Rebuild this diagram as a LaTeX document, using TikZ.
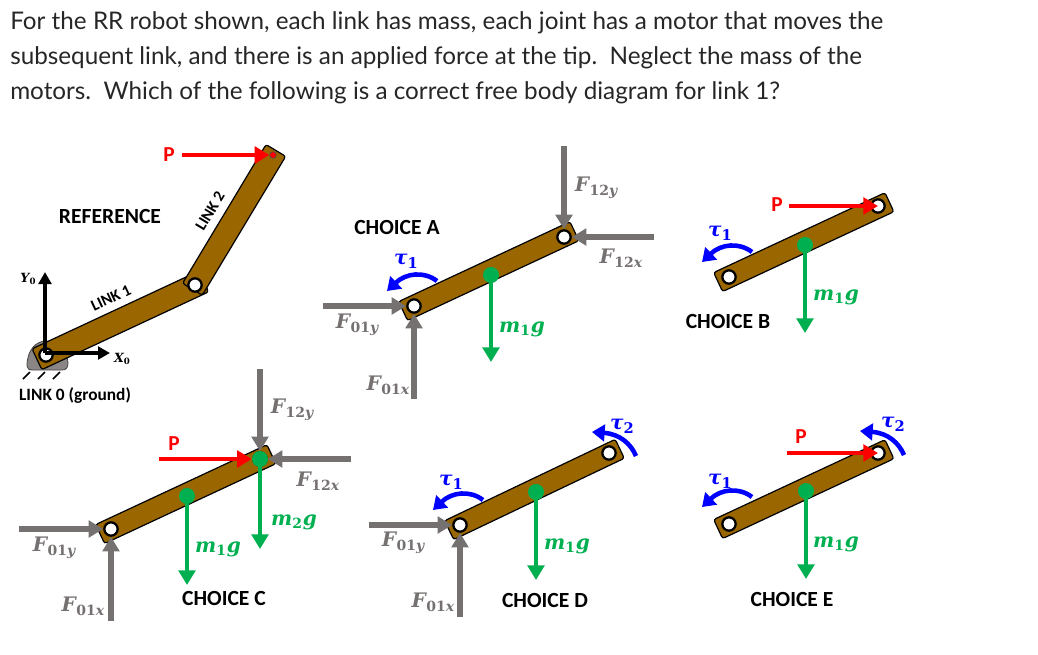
\documentclass[tikz,border=0pt]{standalone}
\usepackage{fontspec}
\usetikzlibrary{arrows.meta}
\setmainfont{Lato}
\newfontfamily\calb[BoldFont=Carlito Bold]{Carlito}
\newfontfamily\mathf[ItalicFont=DejaVu Serif Bold Italic,BoldFont=DejaVu Serif Bold]{DejaVu Serif}
\definecolor{brownlink}{HTML}{996600}
\definecolor{gforce}{HTML}{767171}
\definecolor{gweight}{HTML}{00B050}
\definecolor{bluetau}{HTML}{0000FF}
\definecolor{redp}{HTML}{FF0000}
\newcommand{\linkbar}[4]{\draw[linkbody,shift={(#1,#2)},rotate=#4] (-12,-10.5) rectangle (#3+12,10.5);}
\newcommand{\subl}[3]{{\mathf\itshape\fontsize{15}{15}\selectfont #1\raisebox{-2.8pt}{\fontsize{10.5}{10.5}\selectfont\kern0.4pt{\upshape\bfseries #2}#3}}}
\newcommand{\tausym}[1]{{\mathf\itshape\fontsize{15}{15}\selectfont τ\raisebox{-2.8pt}{\fontsize{11}{11}\selectfont\upshape\bfseries #1}}}
\newcommand{\mg}[1]{{\mathf\itshape\fontsize{15}{15}\selectfont m\raisebox{-2.6pt}{\fontsize{10.5}{10.5}\selectfont\upshape\bfseries #1}\kern0.5pt g}}
\tikzset{
 linkbody/.style={draw=black,line width=0.9pt,fill=brownlink,rounded corners=1.8pt},
 hole/.style={circle,draw=black,fill=white,line width=1.7pt,minimum size=10pt,inner sep=0pt},
 gdot/.style={circle,fill=gweight,minimum size=12pt,inner sep=0pt},
 force/.style={draw=gforce,line width=3.8pt,-{Triangle[length=11pt,width=12.5pt]}},
 weight/.style={draw=gweight,line width=3.4pt,-{Triangle[length=11pt,width=12.5pt]}},
 pull/.style={draw=redp,line width=3.6pt,-{Triangle[length=11pt,width=12.5pt]}},
 tauarc/.style={draw=bluetau,line width=3.4pt,-{Triangle[length=9.5pt,width=12.5pt]}},
 axisarrow/.style={draw=black,line width=2.6pt,-{Triangle[length=9pt,width=9.5pt]}},
 para/.style={anchor=base west,inner sep=0pt,font=\fontsize{18.2}{20}\selectfont,text=black!85},
 caplbl/.style={inner sep=0pt,font=\calb\bfseries\fontsize{16.2}{18}\selectfont},
 gl/.style={inner sep=0pt,text=gforce},
 wl/.style={inner sep=0pt,text=gweight},
 tl/.style={inner sep=0pt,text=bluetau},
 pl/.style={inner sep=0pt,text=redp,font=\calb\bfseries\fontsize{16}{18}\selectfont},
}
\newcommand{\tauA}[3]{% #1 name #2,#3 joint centre: left motor arc
 \coordinate (#1s) at (#2+23,#3-25);
 \coordinate (#1e) at (#2-27,#3-15);
 \draw[tauarc] (#1s) .. controls (#2+10,#3-35) and (#2-8,#3-33) .. (#1e);}
\begin{document}
\begin{tikzpicture}[x=0.75pt,y=-0.75pt]
\useasboundingbox (0,0) rectangle (1038,654);
\node[para] (t1) at (10,29) {For the RR robot shown, each link has mass, each joint has a motor that moves the};
\node[para] (t2) at (10,64) {subsequent link, and there is an applied force at the tip.\ \ Neglect the mass of the};
\node[para] (t3) at (10,99) {motors.\ \ Which of the following is a correct free body diagram for link 1?};

% REFERENCE
\draw[fill=gforce!85,draw=gforce!60!black,line width=0.6pt] (27,366) .. controls (27,350) and (36,341) .. (46,341) .. controls (58,341) and (68,352) .. (68,363) .. controls (68,368) and (66,370) .. (62,370) -- (33,370) .. controls (29,370) and (27,369) .. (27,366) -- cycle;
\foreach \hx in {23,38,53} \draw[black,line width=1.2pt] (\hx,379) -- (\hx+7,372);
\draw[linkbody,shift={(46,355)},rotate=25] (-10,-11.5) rectangle (174,11.5);
\draw[linkbody,shift={(195,285)},rotate=59] (-5,-11.5) rectangle (157,11.5);
\node[hole] (r0) at (46,355) {};
\node[hole] (r1) at (195,285) {};
\node[circle,fill=redp,draw=black!70,line width=0.5pt,minimum size=5pt,inner sep=0pt] (rt) at (273,155) {};
\coordinate (ry) at (45,272);
\coordinate (rx) at (110,353);
\coordinate (ro) at (45,353);
\draw[axisarrow] (ro) -- (ry);
\draw[axisarrow] (ro) -- (rx);
\coordinate (rp) at (182,155);
\draw[pull] (rp) -- (rt);
\node[pl] (rpl) at (169,155) {P};
\node[caplbl] (rlab) at (110,216) {REFERENCE};
\node[caplbl,font=\calb\bfseries\fontsize{13}{15}\selectfont] (l0) at (75,396) {LINK 0 (ground)};
\node[caplbl,font=\calb\bfseries\fontsize{12}{14}\selectfont,rotate=25] (l1) at (111,298) {LINK 1};
\node[caplbl,font=\calb\bfseries\fontsize{12}{14}\selectfont,rotate=59] (l2) at (210,211) {LINK 2};
\node[inner sep=0pt] (yl) at (28,279) {{\mathf\itshape\fontsize{9.5}{10}\selectfont Y\raisebox{-1.5pt}{\fontsize{6.5}{7}\selectfont\upshape\bfseries 0}}};
\node[inner sep=0pt] (xl) at (122,359) {{\mathf\itshape\fontsize{9.5}{10}\selectfont X\raisebox{-1.5pt}{\fontsize{6.5}{7}\selectfont\upshape\bfseries 0}}};

% CHOICE A
\linkbar{414}{306}{165}{25}
\node[hole] (a1) at (414,306) {};
\node[hole] (a2) at (564,237) {};
\node[gdot] (ag) at (491,275) {};
\coordinate (agf) at (491,362);
\draw[weight] (ag.center) -- (agf);
\coordinate (af1) at (323,306); \draw[force] (af1) -- (a1);
\coordinate (af2) at (414,399); \draw[force] (af2) -- (a1);
\coordinate (af3) at (564,146); \draw[force] (af3) -- (a2);
\coordinate (af4) at (654,237); \draw[force] (af4) -- (a2);
\tauA{at}{414}{306}
\node[caplbl] (al) at (397,227) {CHOICE A};
\node[tl] (atl) at (406,261) {\tausym{1}};
\node[gl] (afl1) at (357,325) {\subl{F}{01}{y}};
\node[gl] (afl2) at (388,385) {\subl{F}{01}{x}};
\node[gl] (afl3) at (596,188) {\subl{F}{12}{y}};
\node[gl] (afl4) at (621,258) {\subl{F}{12}{x}};
\node[wl] (aml) at (522,329) {\mg{1}};

% CHOICE B
\linkbar{729}{277}{165}{25}
\node[hole] (b1) at (729,277) {};
\node[hole] (b2) at (878,206) {};
\node[gdot] (bg) at (805,245) {};
\coordinate (bgf) at (805,333);
\draw[weight] (bg.center) -- (bgf);
\coordinate (bp) at (789,206); \draw[pull] (bp) -- (b2.center);
\tauA{bt}{729}{277}
\node[pl] (bpl) at (777,205) {P};
\node[tl] (btl) at (720,233) {\tausym{1}};
\node[wl] (bml) at (836,297) {\mg{1}};
\node[caplbl] (bl) at (728,321) {CHOICE B};

% CHOICE C
\linkbar{111}{529}{165}{25}
\node[hole] (c1) at (111,529) {};
\node[hole] (c2) at (260,459) {};
\node[gdot] (cg) at (187,496) {};
\node[gdot] (cm) at (260,459) {};
\coordinate (cgf) at (187,585); \draw[weight] (cg.center) -- (cgf);
\coordinate (cmf) at (260,549); \draw[weight] (cm.center) -- (cmf);
\coordinate (cp) at (159,459); \draw[pull] (cp) -- (cm);
\coordinate (cf1) at (19,529); \draw[force] (cf1) -- (c1);
\coordinate (cf2) at (111,621); \draw[force] (cf2) -- (c1);
\coordinate (cf3) at (260,369); \draw[force] (cf3) -- (c2);
\coordinate (cf4) at (351,459); \draw[force] (cf4) -- (c2);
\node[pl] (cpl) at (174,444) {P};
\node[gl] (cfl1) at (54,548) {\subl{F}{01}{y}};
\node[gl] (cfl2) at (83,606) {\subl{F}{01}{x}};
\node[gl] (cfl3) at (292,410) {\subl{F}{12}{y}};
\node[gl] (cfl4) at (318,481) {\subl{F}{12}{x}};
\node[wl] (cml) at (218,549) {\mg{1}};
\node[wl] (cml2) at (294,522) {\mg{2}};
\node[caplbl] (cl) at (224,598) {CHOICE C};

% CHOICE D
\linkbar{460}{525}{165}{25.5}
\node[hole] (d1) at (460,525) {};
\node[hole] (d2) at (609,453) {};
\node[gdot] (dg) at (536,492) {};
\coordinate (dgf) at (536,580); \draw[weight] (dg.center) -- (dgf);
\coordinate (df1) at (369,525); \draw[force] (df1) -- (d1);
\coordinate (df2) at (460,617); \draw[force] (df2) -- (d1);
\tauA{dt}{460}{525}
\coordinate (dts) at (636,456); \coordinate (dte) at (592,432);
\draw[tauarc] (dts) .. controls (631,444) and (620,434) .. (dte);
\node[tl] (dtl1) at (451,482) {\tausym{1}};
\node[tl] (dtl2) at (622,426) {\tausym{2}};
\node[gl] (dfl1) at (403,543) {\subl{F}{01}{y}};
\node[gl] (dfl2) at (433,602) {\subl{F}{01}{x}};
\node[wl] (dml) at (567,546) {\mg{1}};
\node[caplbl] (dl) at (545,600) {CHOICE D};

% CHOICE E
\linkbar{729}{524}{165}{25}
\node[hole] (e1) at (729,524) {};
\node[hole] (e2) at (878,453) {};
\node[gdot] (eg) at (806,491) {};
\coordinate (egf) at (806,579); \draw[weight] (eg.center) -- (egf);
\coordinate (ep) at (787,453); \draw[pull] (ep) -- (e2.center);
\tauA{et}{729}{522}
\coordinate (ets) at (904,455); \coordinate (ete) at (860,431);
\draw[tauarc] (ets) .. controls (899,443) and (888,433) .. (ete);
\node[pl] (epl) at (801,437) {P};
\node[tl] (etl1) at (720,481) {\tausym{1}};
\node[tl] (etl2) at (893,424) {\tausym{2}};
\node[wl] (eml) at (836,544) {\mg{1}};
\node[caplbl] (el) at (792,599) {CHOICE E};
\end{tikzpicture}
\end{document}
